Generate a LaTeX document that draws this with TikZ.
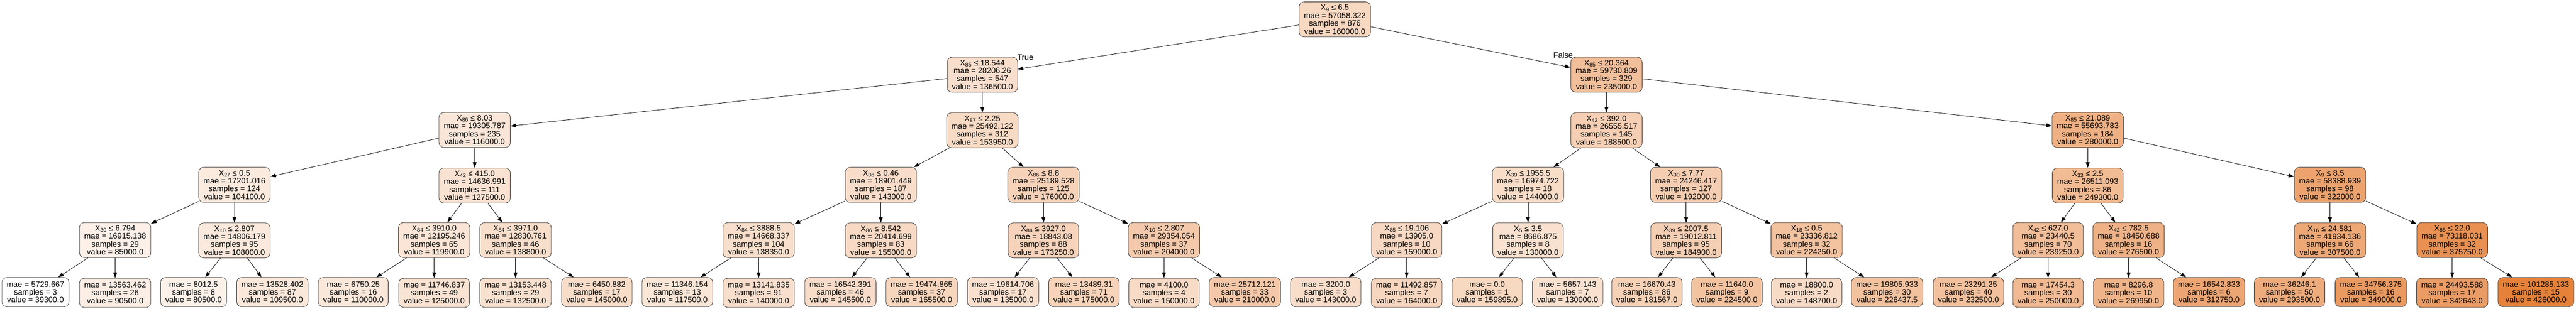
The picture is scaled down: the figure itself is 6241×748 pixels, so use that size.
\documentclass[tikz,border=0pt]{standalone}
\usepackage{fontspec}
\setmainfont{Liberation Sans}
\usetikzlibrary{positioning}
\usetikzlibrary{arrows.meta}
\definecolor{treeorange}{RGB}{229,129,57}

\begin{document}
\begin{tikzpicture}[x=0.75pt, y=0.75pt, node distance=36.5pt,
  every node/.style={font=\fontsize{14.4pt}{14.4pt}\selectfont},
  split/.style={draw=black!80, line width=0.75pt, rounded corners=9pt, align=center, inner xsep=8.6pt, inner ysep=0pt, minimum height=63.75pt},
  leaf/.style={split, minimum height=53.25pt},
  shade/.style={fill=treeorange!#1!white},
  edge/.style={-{Triangle[length=10pt,width=7pt]}, line width=0.75pt}]

  \useasboundingbox (0,0) rectangle (6241,-748);

  % level 0 and 1
  \node [split, shade=31.2] (root) at (3234,-47) {X\textsubscript{9} ≤ 6.5\\mae = 57058.322\\samples = 876\\value = 160000.0};
  \node [split, shade=25.1] (l) at (2380,-181) {X\textsubscript{85} ≤ 18.544\\mae = 28206.26\\samples = 547\\value = 136500.0};
  \node [split, shade=50.6] (r) at (3892,-181) {X\textsubscript{85} ≤ 20.364\\mae = 59730.809\\samples = 329\\value = 235000.0};

  % level 2
  \node [split, shade=19.8] (ll) at (1150,-315) {X\textsubscript{86} ≤ 8.03\\mae = 19305.787\\samples = 235\\value = 116000.0};
  \node [split, shade=29.6, below=of l] (lr) {X\textsubscript{87} ≤ 2.25\\mae = 25492.122\\samples = 312\\value = 153950.0};
  \node [split, shade=38.6, below=of r] (rl) {X\textsubscript{42} ≤ 392.0\\mae = 26555.517\\samples = 145\\value = 188500.0};
  \node [split, shade=62.2] (rr) at (5058,-315) {X\textsubscript{85} ≤ 21.089\\mae = 55693.783\\samples = 184\\value = 280000.0};

  % level 3
  \node [split, shade=16.8] (lll) at (568,-448) {X\textsubscript{27} ≤ 0.5\\mae = 17201.016\\samples = 124\\value = 104100.0};
  \node [split, shade=22.8, below=of ll] (llr) {X\textsubscript{42} ≤ 415.0\\mae = 14636.991\\samples = 111\\value = 127500.0};
  \node [split, shade=26.8] (lrl) at (2134,-448) {X\textsubscript{36} ≤ 0.46\\mae = 18901.449\\samples = 187\\value = 143000.0};
  \node [split, shade=35.4] (lrr) at (2528,-448) {X\textsubscript{86} ≤ 8.8\\mae = 25189.528\\samples = 125\\value = 176000.0};
  \node [split, shade=27.1] (rll) at (3702,-448) {X\textsubscript{39} ≤ 1955.5\\mae = 16974.722\\samples = 18\\value = 144000.0};
  \node [split, shade=39.5] (rlr) at (4085,-448) {X\textsubscript{30} ≤ 7.77\\mae = 24246.417\\samples = 127\\value = 192000.0};
  \node [split, shade=54.3, below=of rr] (rrl) {X\textsubscript{33} ≤ 2.5\\mae = 26511.093\\samples = 86\\value = 249300.0};
  \node [split, shade=73.1] (rrr) at (5645,-448) {X\textsubscript{9} ≤ 8.5\\mae = 58388.939\\samples = 98\\value = 322000.0};

  % level 4
  \node [split, shade=11.8] (llll) at (279,-582) {X\textsubscript{30} ≤ 6.794\\mae = 16915.138\\samples = 29\\value = 85000.0};
  \node [split, shade=17.8, below=of lll] (lllr) {X\textsubscript{10} ≤ 2.807\\mae = 14806.179\\samples = 95\\value = 108000.0};
  \node [split, shade=20.8] (llrl) at (1052,-582) {X\textsubscript{84} ≤ 3910.0\\mae = 12195.246\\samples = 65\\value = 119900.0};
  \node [split, shade=25.7] (llrr) at (1249,-582) {X\textsubscript{84} ≤ 3971.0\\mae = 12830.761\\samples = 46\\value = 138800.0};
  \node [split, shade=25.6] (lrll) at (1838,-582) {X\textsubscript{84} ≤ 3888.5\\mae = 14668.337\\samples = 104\\value = 138350.0};
  \node [split, shade=29.9, below=of lrl] (lrlr) {X\textsubscript{86} ≤ 8.542\\mae = 20414.699\\samples = 83\\value = 155000.0};
  \node [split, shade=34.6, below=of lrr] (lrrl) {X\textsubscript{84} ≤ 3927.0\\mae = 18843.08\\samples = 88\\value = 173250.0};
  \node [split, shade=42.6] (lrrr) at (2820,-582) {X\textsubscript{10} ≤ 2.807\\mae = 29354.054\\samples = 37\\value = 204000.0};
  \node [split, shade=31.0] (rlll) at (3408,-582) {X\textsubscript{85} ≤ 19.106\\mae = 13905.0\\samples = 10\\value = 159000.0};
  \node [split, shade=23.5, below=of rll] (rllr) {X\textsubscript{5} ≤ 3.5\\mae = 8686.875\\samples = 8\\value = 130000.0};
  \node [split, shade=37.7, below=of rlr] (rlrl) {X\textsubscript{39} ≤ 2007.5\\mae = 19012.811\\samples = 95\\value = 184900.0};
  \node [split, shade=47.8] (rlrr) at (4377,-582) {X\textsubscript{18} ≤ 0.5\\mae = 23336.812\\samples = 32\\value = 224250.0};
  \node [split, shade=51.7] (rrll) at (4962,-582) {X\textsubscript{42} ≤ 627.0\\mae = 23440.5\\samples = 70\\value = 239250.0};
  \node [split, shade=61.3] (rrlr) at (5157,-582) {X\textsubscript{42} ≤ 782.5\\mae = 18450.688\\samples = 16\\value = 276500.0};
  \node [split, shade=69.4, below=of rrr] (rrrl) {X\textsubscript{16} ≤ 24.581\\mae = 41934.136\\samples = 66\\value = 307500.0};
  \node [split, shade=87.0] (rrrr) at (5941,-582) {X\textsubscript{85} ≤ 22.0\\mae = 73118.031\\samples = 32\\value = 375750.0};

  % leaves
  \node [leaf, shade=0] (lllll) at (86,-708) {mae = 5729.667\\samples = 3\\value = 39300.0};
  \node [leaf, shade=13.2, below=of llll] (llllr) {mae = 13563.462\\samples = 26\\value = 90500.0};
  \node [leaf, shade=10.7] (lllrl) at (469,-708) {mae = 8012.5\\samples = 8\\value = 80500.0};
  \node [leaf, shade=18.2] (lllrr) at (660,-708) {mae = 13528.402\\samples = 87\\value = 109500.0};
  \node [leaf, shade=18.3] (llrll) at (856,-708) {mae = 6750.25\\samples = 16\\value = 110000.0};
  \node [leaf, shade=22.2, below=of llrl] (llrlr) {mae = 11746.837\\samples = 49\\value = 125000.0};
  \node [leaf, shade=24.1, below=of llrr] (llrrl) {mae = 13153.448\\samples = 29\\value = 132500.0};
  \node [leaf, shade=27.3] (llrrr) at (1446,-708) {mae = 6450.882\\samples = 17\\value = 145000.0};
  \node [leaf, shade=20.2] (lrlll) at (1641,-708) {mae = 11346.154\\samples = 13\\value = 117500.0};
  \node [leaf, shade=26.0, below=of lrll] (lrllr) {mae = 13141.835\\samples = 91\\value = 140000.0};
  \node [leaf, shade=27.5] (lrlrl) at (2036,-708) {mae = 16542.391\\samples = 46\\value = 145500.0};
  \node [leaf, shade=32.6] (lrlrr) at (2233,-708) {mae = 19474.865\\samples = 37\\value = 165500.0};
  \node [leaf, shade=24.7] (lrrll) at (2430,-708) {mae = 19614.706\\samples = 17\\value = 135000.0};
  \node [leaf, shade=35.1] (lrrlr) at (2626,-708) {mae = 13489.31\\samples = 71\\value = 175000.0};
  \node [leaf, shade=28.6, below=of lrrr] (lrrrl) {mae = 4100.0\\samples = 4\\value = 150000.0};
  \node [leaf, shade=44.1] (lrrrr) at (3016,-708) {mae = 25712.121\\samples = 33\\value = 210000.0};
  \node [leaf, shade=26.8] (rllll) at (3212,-708) {mae = 3200.0\\samples = 3\\value = 143000.0};
  \node [leaf, shade=32.2, below=of rlll] (rlllr) {mae = 11492.857\\samples = 7\\value = 164000.0};
  \node [leaf, shade=31.2] (rllrl) at (3603,-708) {mae = 0.0\\samples = 1\\value = 159895.0};
  \node [leaf, shade=23.5] (rllrr) at (3798,-708) {mae = 5657.143\\samples = 7\\value = 130000.0};
  \node [leaf, shade=36.8] (rlrll) at (3990,-708) {mae = 16670.43\\samples = 86\\value = 181567.0};
  \node [leaf, shade=47.9] (rlrlr) at (4184,-708) {mae = 11640.0\\samples = 9\\value = 224500.0};
  \node [leaf, shade=28.3, below=of rlrr] (rlrrl) {mae = 18800.0\\samples = 2\\value = 148700.0};
  \node [leaf, shade=48.4] (rlrrr) at (4572,-708) {mae = 19805.933\\samples = 30\\value = 226437.5};
  \node [leaf, shade=50.0] (rrlll) at (4769,-708) {mae = 23291.25\\samples = 40\\value = 232500.0};
  \node [leaf, shade=54.5, below=of rrll] (rrllr) {mae = 17454.3\\samples = 30\\value = 250000.0};
  \node [leaf, shade=59.6, below=of rrlr] (rrlrl) {mae = 8296.8\\samples = 10\\value = 269950.0};
  \node [leaf, shade=70.7] (rrlrr) at (5352,-708) {mae = 16542.833\\samples = 6\\value = 312750.0};
  \node [leaf, shade=65.7] (rrrll) at (5547,-708) {mae = 36246.1\\samples = 50\\value = 293500.0};
  \node [leaf, shade=80.1] (rrrlr) at (5744,-708) {mae = 34756.375\\samples = 16\\value = 349000.0};
  \node [leaf, shade=78.4, below=of rrrr] (rrrrl) {mae = 24493.588\\samples = 17\\value = 342643.0};
  \node [leaf, shade=100] (rrrrr) at (6144,-708) {mae = 101285.133\\samples = 15\\value = 426000.0};

  % branch labels
  \node (truelbl) at (2484,-139) {True};
  \node (falselbl) at (3787,-134) {False};

  % edges
  \draw [edge] (root) -- (l);
  \draw [edge] (root) -- (r);
  \foreach \p in {l,r,ll,lr,rl,rr,lll,llr,lrl,lrr,rll,rlr,rrl,rrr,llll,lllr,llrl,llrr,lrll,lrlr,lrrl,lrrr,rlll,rllr,rlrl,rlrr,rrll,rrlr,rrrl,rrrr}
  {
    \draw [edge] (\p) -- (\p l);
    \draw [edge] (\p) -- (\p r);
  }
\end{tikzpicture}
\end{document}
